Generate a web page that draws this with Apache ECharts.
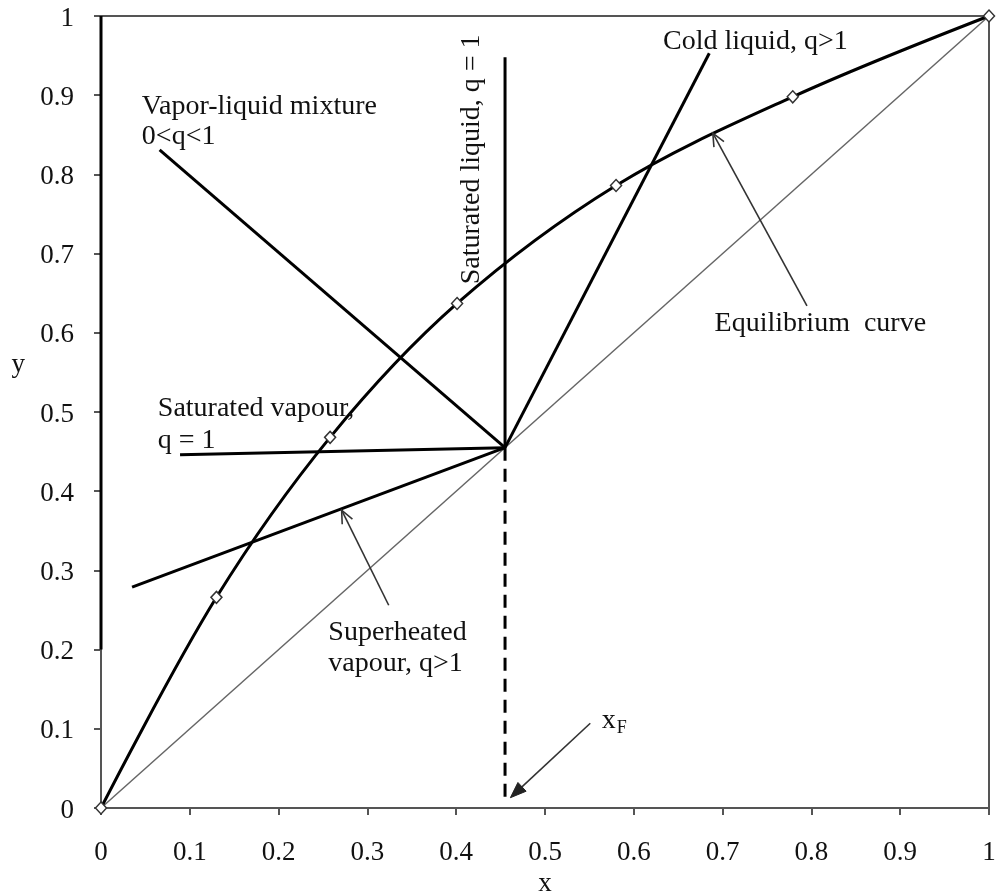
<!DOCTYPE html>
<html>
<head>
<meta charset="utf-8">
<title>q-line construction on the x–y diagram</title>
<script src="https://cdn.jsdelivr.net/npm/echarts@6/dist/echarts.min.js"></script>
<style>
  html, body { margin: 0; padding: 0; background: #fff; }
  #chart { width: 997px; height: 893px; }
</style>
</head>
<body>
<div id="chart"></div>
<script>
// Equilibrium curve (liquid mole fraction x, vapour mole fraction y)
const eqX = [0, 0.13, 0.258, 0.401, 0.58, 0.779, 1];
const eqY = [0, 0.266, 0.468, 0.637, 0.786, 0.898, 1];

// Feed composition
const xF = 0.455;

// Far ends of the q-lines; every q-line starts at the feed point (xF, xF)
const qLineNames = ['Vapor-liquid mixture', 'Saturated liquid', 'Cold liquid', 'Saturated vapour', 'Superheated vapour'];
const qLineEndX = [0.066, 0.455, 0.685, 0.089, 0.035];
const qLineEndY = [0.831, 0.948, 0.953, 0.446, 0.279];

// Lower end of the dashed drop line from the feed point to the x axis
const dropEndY = 0.012;

// Upper part of the left boundary line (x = 0)
const leftLineY = [0.2, 1];

// Pointer arrows: tail -> head
const arrowTailX = [0.795, 0.324, 0.551];
const arrowTailY = [0.634, 0.256, 0.107];
const arrowHeadX = [0.689, 0.271, 0.461];
const arrowHeadY = [0.852, 0.376, 0.013];

// Annotations, anchored at their left end
const labelText = ['Vapor-liquid mixture', '0<q<1', 'Saturated vapour,', 'q = 1',
                   'Cold liquid, q>1', 'Equilibrium  curve', 'Superheated', 'vapour, q>1', 'x'];
const labelSub  = ['', '', '', '', '', '', '', '', 'F'];
const labelX = [0.046, 0.046, 0.064, 0.064, 0.633, 0.691, 0.256, 0.256, 0.564];
const labelY = [0.886, 0.848, 0.504, 0.464, 0.968, 0.612, 0.221, 0.182, 0.110];

// Rotated annotation beside the vertical q-line (anchored at its centre)
const vertLabelText = ['Saturated liquid, q = 1'];
const vertLabelX = [0.4175];
const vertLabelY = [0.819];

// Tick labels
const tickLabels = ['0', '0.1', '0.2', '0.3', '0.4', '0.5', '0.6', '0.7', '0.8', '0.9', '1'];

const FONT_FAMILY = "'Liberation Serif', 'Times New Roman', 'DejaVu Serif', serif";
const LABEL_SIZE = 28;
const AXIS_GREY = '#555';

const measureCtx = document.createElement('canvas').getContext('2d');
function textWidth(str, size) {
  measureCtx.font = size + 'px ' + FONT_FAMILY;
  return measureCtx.measureText(str).width;
}

function tickFormatter(v) {
  return tickLabels[Math.round(v * 10)];
}

const chart = echarts.init(document.getElementById('chart'), null, { renderer: 'canvas' });

const series = [];

// 45-degree diagonal y = x
series.push({
  type: 'line',
  name: 'y = x',
  data: [[0, 0], [1, 1]],
  showSymbol: false,
  lineStyle: { color: '#666', width: 1.5 },
  z: 2
});

// Left boundary line
series.push({
  type: 'line',
  name: 'x = 0',
  data: leftLineY.map(y => [0, y]),
  showSymbol: false,
  lineStyle: { color: '#000', width: 3 },
  z: 3
});

// q-lines through the feed point
qLineNames.forEach((n, i) => {
  series.push({
    type: 'line',
    name: n,
    data: [[xF, xF], [qLineEndX[i], qLineEndY[i]]],
    showSymbol: false,
    lineStyle: { color: '#000', width: 3 },
    z: 3
  });
});

// Dashed drop line marking xF on the x axis
series.push({
  type: 'line',
  name: 'xF',
  data: [[xF, xF], [xF, dropEndY]],
  showSymbol: false,
  lineStyle: { color: '#000', width: 3, type: [13, 8] },
  z: 3
});

// Equilibrium curve with hollow diamond markers
series.push({
  type: 'line',
  name: 'Equilibrium curve',
  data: eqX.map((x, i) => [x, eqY[i]]),
  smooth: 0.35,
  symbol: 'diamond',
  symbolSize: [11, 12],
  showSymbol: true,
  itemStyle: { color: '#fff', borderColor: '#333', borderWidth: 1.5 },
  lineStyle: { color: '#000', width: 3 },
  z: 4
});

// Pointer arrows
series.push({
  type: 'custom',
  name: 'arrows',
  coordinateSystem: 'cartesian2d',
  clip: false,
  data: arrowTailX.map((x, i) => [x, arrowTailY[i], arrowHeadX[i], arrowHeadY[i]]),
  renderItem: function (params, api) {
    const a = api.coord([api.value(0), api.value(1)]);
    const b = api.coord([api.value(2), api.value(3)]);
    const ang = Math.atan2(b[1] - a[1], b[0] - a[0]);
    const filled = params.dataIndex === 2;
    const len = filled ? 17 : 14;
    const half = filled ? 0.36 : 0.42;
    const p1 = [b[0] - len * Math.cos(ang - half), b[1] - len * Math.sin(ang - half)];
    const p2 = [b[0] - len * Math.cos(ang + half), b[1] - len * Math.sin(ang + half)];
    const stroke = { stroke: '#333', lineWidth: 1.6, fill: null };
    const children = [];
    if (filled) {
      const base = [b[0] - len * 0.8 * Math.cos(ang), b[1] - len * 0.8 * Math.sin(ang)];
      children.push({ type: 'line', shape: { x1: a[0], y1: a[1], x2: base[0], y2: base[1] }, style: stroke });
      children.push({ type: 'polygon', shape: { points: [b, p1, p2] }, style: { fill: '#222', stroke: '#222', lineWidth: 1 } });
    } else {
      children.push({ type: 'line', shape: { x1: a[0], y1: a[1], x2: b[0], y2: b[1] }, style: stroke });
      children.push({ type: 'polyline', shape: { points: [p1, b, p2] }, style: stroke });
    }
    return { type: 'group', children: children };
  },
  z: 5
});

// Horizontal annotations
series.push({
  type: 'custom',
  name: 'labels',
  coordinateSystem: 'cartesian2d',
  clip: false,
  data: labelX.map((x, i) => [x, labelY[i]]),
  renderItem: function (params, api) {
    const i = params.dataIndex;
    const p = api.coord([api.value(0), api.value(1)]);
    const children = [{
      type: 'text',
      x: p[0], y: p[1],
      style: {
        text: labelText[i],
        font: LABEL_SIZE + 'px ' + FONT_FAMILY,
        fill: '#111',
        align: 'left',
        verticalAlign: 'middle'
      }
    }];
    if (labelSub[i]) {
      children.push({
        type: 'text',
        x: p[0] + textWidth(labelText[i], LABEL_SIZE) + 1,
        y: p[1] + 7,
        style: {
          text: labelSub[i],
          font: '18px ' + FONT_FAMILY,
          fill: '#111',
          align: 'left',
          verticalAlign: 'middle'
        }
      });
    }
    return { type: 'group', children: children };
  },
  z: 6
});

// Rotated annotation
series.push({
  type: 'custom',
  name: 'vertical label',
  coordinateSystem: 'cartesian2d',
  clip: false,
  data: vertLabelX.map((x, i) => [x, vertLabelY[i]]),
  renderItem: function (params, api) {
    const i = params.dataIndex;
    const p = api.coord([api.value(0), api.value(1)]);
    return {
      type: 'text',
      x: p[0], y: p[1],
      rotation: Math.PI / 2,
      style: {
        text: vertLabelText[i],
        font: LABEL_SIZE + 'px ' + FONT_FAMILY,
        fill: '#111',
        align: 'center',
        verticalAlign: 'middle'
      }
    };
  },
  z: 6
});

const axisCommon = {
  type: 'value',
  min: 0,
  max: 1,
  interval: 0.1,
  splitLine: { show: false },
  axisLine: { show: true, lineStyle: { color: AXIS_GREY, width: 2 } },
  axisTick: { show: true, inside: false, length: 7, lineStyle: { color: AXIS_GREY, width: 2 } }
};

chart.setOption({
  animation: false,
  backgroundColor: '#fff',
  grid: {
    left: 101, right: 8, top: 16, bottom: 85,
    outerBoundsMode: 'none',
    containLabel: false,
    show: true,
    borderColor: AXIS_GREY,
    borderWidth: 2,
    backgroundColor: 'transparent'
  },
  xAxis: Object.assign({}, axisCommon, {
    name: 'x',
    nameLocation: 'middle',
    nameGap: 62,
    nameTextStyle: { fontFamily: FONT_FAMILY, fontSize: 27, color: '#111' },
    axisLabel: { formatter: tickFormatter, margin: 31, fontFamily: FONT_FAMILY, fontSize: 27, color: '#111' }
  }),
  yAxis: Object.assign({}, axisCommon, {
    name: 'y',
    nameLocation: 'middle',
    nameRotate: 0,
    nameGap: 76,
    nameTextStyle: { fontFamily: FONT_FAMILY, fontSize: 27, color: '#111', verticalAlign: 'bottom', lineHeight: 94 },
    axisLabel: { formatter: tickFormatter, margin: 27, fontFamily: FONT_FAMILY, fontSize: 27, color: '#111', lineHeight: 33, verticalAlign: 'top', padding: [-14, 0, 0, 0] }
  }),
  series: series
});
</script>
</body>
</html>
